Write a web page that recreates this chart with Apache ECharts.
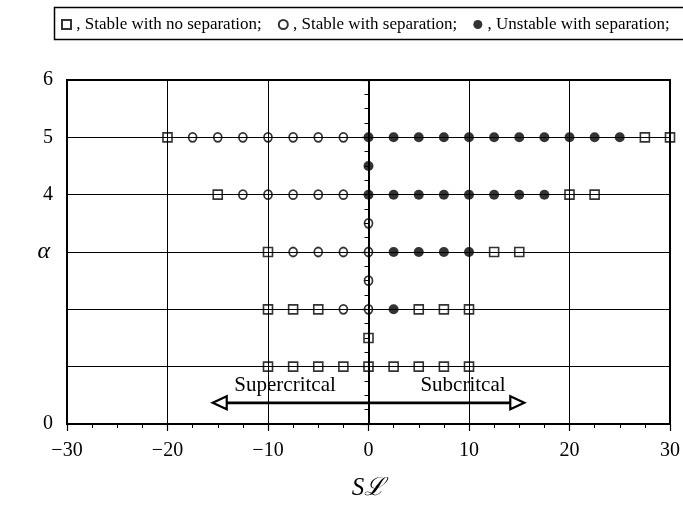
<!DOCTYPE html>
<html>
<head>
<meta charset="utf-8">
<script src="https://cdn.jsdelivr.net/npm/echarts@6/dist/echarts.min.js"></script>
<style>
  html, body { margin: 0; padding: 0; background: #fff; }
  #chart { width: 683px; height: 506px; }
</style>
</head>
<body>
<div id="chart"></div>
<script>
// Stability map: S·L (x) against alpha (y)
const xTicks = [-30, -20, -10, 0, 10, 20, 30];
const yTicks = [0, 1, 2, 3, 4, 5, 6];
const yTickLabelsShown = [0, 4, 5, 6];

const seriesNames = [
  'Stable with no separation',
  'Stable with separation',
  'Unstable with separation'
];

// [S·L, alpha]
const stableNoSeparation = [
  [-20, 5], [27.5, 5], [30, 5],
  [-15, 4], [20, 4], [22.5, 4],
  [-10, 3], [12.5, 3], [15, 3],
  [-10, 2], [-7.5, 2], [-5, 2], [5, 2], [7.5, 2], [10, 2],
  [-10, 1], [-7.5, 1], [-5, 1], [-2.5, 1], [0, 1], [2.5, 1], [5, 1], [7.5, 1], [10, 1],
  [0, 1.5]
];
const stableSeparation = [
  [-17.5, 5], [-15, 5], [-12.5, 5], [-10, 5], [-7.5, 5], [-5, 5], [-2.5, 5],
  [-12.5, 4], [-10, 4], [-7.5, 4], [-5, 4], [-2.5, 4],
  [-7.5, 3], [-5, 3], [-2.5, 3], [0, 3],
  [-2.5, 2], [0, 2],
  [0, 2.5], [0, 3.5]
];
const unstableSeparation = [
  [0, 5], [2.5, 5], [5, 5], [7.5, 5], [10, 5], [12.5, 5], [15, 5], [17.5, 5], [20, 5], [22.5, 5], [25, 5],
  [0, 4], [2.5, 4], [5, 4], [7.5, 4], [10, 4], [12.5, 4], [15, 4], [17.5, 4],
  [2.5, 3], [5, 3], [7.5, 3], [10, 3],
  [2.5, 2],
  [0, 4.5]
];

// Double arrow: [from S·L, to S·L, alpha]
const regimeArrow = [[-15.5, 15.5, 0.37]];
const regimeLabels = ['Supercritcal', 'Subcritcal'];
const regimeLabelPos = [[-8.3, 0.68], [9.4, 0.68]];

const SERIF = '"Liberation Serif", "DejaVu Serif", serif';

const chart = echarts.init(document.getElementById('chart'));

function minusFmt(v) {
  return v < 0 ? '\u2212' + Math.abs(v) : String(v);
}

const option = {
  backgroundColor: '#fff',
  animation: false,
  textStyle: { fontFamily: SERIF, color: '#000' },
  graphic: [{
    type: 'rect',
    left: 52, top: 5,
    shape: { width: 700, height: 32 },
    style: { fill: 'none', stroke: '#000', lineWidth: 1.5 },
    z: 0
  }],
  legend: {
    data: seriesNames,
    left: 56, top: 11,
    itemWidth: 9, itemHeight: 9,
    itemGap: 16,
    formatter: n => ' , ' + n + ';',
    textStyle: { fontFamily: SERIF, fontSize: 17, color: '#000', padding: [0, 0, 0, -4] },
    selectedMode: false
  },
  grid: {
    left: 67, right: 11, top: 80, bottom: 77,
    show: true, borderColor: '#000', borderWidth: 2
  },
  xAxis: {
    type: 'value',
    min: xTicks[0], max: xTicks[xTicks.length - 1], interval: 10,
    name: '{s|S}{l|\u2112}',
    nameLocation: 'middle',
    nameGap: 52,
    nameMoveOverlap: false,
    nameTextStyle: {
      rich: {
        s: { fontFamily: SERIF, fontStyle: 'italic', fontSize: 25, color: '#000' },
        l: { fontFamily: SERIF, fontStyle: 'italic', fontSize: 25, color: '#000' }
      }
    },
    axisLine: { lineStyle: { color: '#000', width: 2 } },
    axisTick: { length: 7, lineStyle: { color: '#000', width: 1.2 } },
    minorTick: { show: true, splitNumber: 4, length: 4, lineStyle: { color: '#000', width: 1 } },
    splitLine: { show: true, lineStyle: { color: '#000', width: 1 } },
    axisLabel: { fontFamily: SERIF, fontSize: 20, color: '#000', margin: 17, formatter: minusFmt }
  },
  yAxis: {
    type: 'value',
    min: yTicks[0], max: yTicks[yTicks.length - 1], interval: 1,
    name: '\u03b1',
    nameLocation: 'middle',
    nameRotate: 0,
    nameGap: 17,
    nameMoveOverlap: false,
    nameTextStyle: { fontFamily: SERIF, fontStyle: 'italic', fontSize: 24, color: '#000', padding: [18, 0, 0, 0] },
    axisLine: { lineStyle: { color: '#000', width: 2 } },
    axisTick: { length: 7, lineStyle: { color: '#000', width: 1.2 } },
    minorTick: { show: true, splitNumber: 4, length: 4, lineStyle: { color: '#000', width: 1 } },
    splitLine: { show: true, lineStyle: { color: '#000', width: 1 } },
    axisLabel: {
      fontFamily: SERIF, fontSize: 20, color: '#000', margin: 14,
      formatter: v => (yTickLabelsShown.indexOf(v) >= 0 ? String(v) : '')
    }
  },
  series: [
    {
      name: seriesNames[0],
      type: 'scatter',
      data: stableNoSeparation,
      symbol: 'rect',
      symbolSize: 9,
      itemStyle: { color: 'rgba(255,255,255,0)', borderColor: '#000', borderWidth: 1.6 },
      z: 5
    },
    {
      name: seriesNames[1],
      type: 'scatter',
      data: stableSeparation,
      symbol: 'circle',
      symbolSize: [8, 9],
      itemStyle: { color: 'rgba(255,255,255,0)', borderColor: '#000', borderWidth: 1.8 },
      z: 5
    },
    {
      name: seriesNames[2],
      type: 'scatter',
      data: unstableSeparation,
      symbol: 'circle',
      symbolSize: 10,
      itemStyle: { color: '#000', borderColor: '#000', borderWidth: 0 },
      z: 5
    },
    {
      name: 'regime-arrow',
      type: 'custom',
      data: regimeArrow,
      encode: { x: [0, 1], y: 2 },
      silent: true,
      z: 6,
      renderItem: function (params, api) {
        const y = api.value(2);
        const p1 = api.coord([api.value(0), y]);
        const p2 = api.coord([api.value(1), y]);
        const L = 14, H = 6.5;
        return {
          type: 'group',
          children: [
            { type: 'line', shape: { x1: p1[0] + L, y1: p1[1], x2: p2[0] - L, y2: p2[1] },
              style: { stroke: '#000', lineWidth: 2.8 } },
            { type: 'polygon', shape: { points: [[p1[0], p1[1]], [p1[0] + L, p1[1] - H], [p1[0] + L, p1[1] + H]] },
              style: { fill: '#fff', stroke: '#000', lineWidth: 2.2 } },
            { type: 'polygon', shape: { points: [[p2[0], p2[1]], [p2[0] - L, p2[1] - H], [p2[0] - L, p2[1] + H]] },
              style: { fill: '#fff', stroke: '#000', lineWidth: 2.2 } }
          ]
        };
      }
    },
    {
      name: 'regime-labels',
      type: 'custom',
      silent: true,
      data: regimeLabelPos.map((p, i) => [p[0], p[1], i]),
      encode: { x: 0, y: 1 },
      z: 7,
      renderItem: function (params, api) {
        const pt = api.coord([api.value(0), api.value(1)]);
        return {
          type: 'text',
          x: pt[0], y: pt[1],
          style: {
            text: regimeLabels[api.value(2)],
            fontFamily: SERIF, fontSize: 21, fill: '#000',
            align: 'center', verticalAlign: 'middle'
          }
        };
      }
    }
  ]
};

chart.setOption(option);
</script>
</body>
</html>
